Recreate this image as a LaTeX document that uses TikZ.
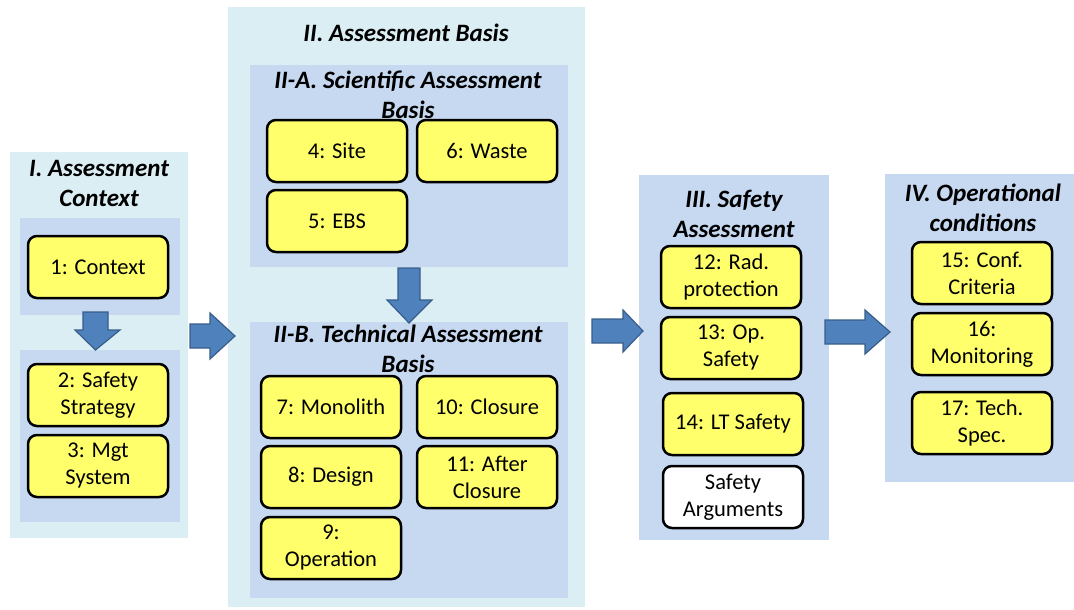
\documentclass[tikz,border=0pt]{standalone}
\usepackage{fontspec}
\setmainfont{Carlito}
\usetikzlibrary{positioning}

\definecolor{outerblue}{RGB}{219,238,244}
\definecolor{innerblue}{RGB}{198,217,241}
\definecolor{boxyellow}{RGB}{255,255,108}
\definecolor{arrowblue}{RGB}{79,129,189}
\definecolor{arrowedge}{RGB}{56,93,138}

\tikzset{
  item/.style={draw=black, line width=2.5pt, rounded corners=9pt, fill=boxyellow,
    minimum width=140pt, minimum height=62pt, inner sep=2pt, align=center,
    font=\fontsize{22.5}{27}\selectfont},
  title/.style={align=center, inner sep=0pt, font=\fontsize{25}{30}\selectfont\bfseries\itshape},
  blk/.style={fill=arrowblue, draw=arrowedge, line width=1.2pt, line join=miter},
}

\begin{document}
\begin{tikzpicture}[x=1pt, y=-1pt]
    \useasboundingbox (0,0) rectangle (1074,610);

    % panels
    \fill[outerblue] (10,152) rectangle (188,538);
    \fill[innerblue] (20,218) rectangle (180,315);
    \fill[innerblue] (20,350) rectangle (180,522);
    \fill[outerblue] (228,7) rectangle (585,607);
    \fill[innerblue] (250,65) rectangle (568,267);
    \fill[innerblue] (250,322) rectangle (568,598);
    \fill[innerblue] (639,175) rectangle (829,540);
    \fill[innerblue] (885,174) rectangle (1074,482);

    % titles
    \node[title] (tI) at (99,183) {I. Assessment\\Context};
    \node[title] (tII) at (406,33) {II. Assessment Basis};
    \node[title] (tIIA) at (408,95) {II-A. Scientific Assessment\\Basis};
    \node[title] (tIIB) at (408,349) {II-B. Technical Assessment\\Basis};
    \node[title] (tIII) at (734,214) {III. Safety\\Assessment};
    \node[title] (tIV) at (983,208) {IV. Operational\\conditions};

    % block arrows
    \draw[blk] (83,312) -- (108,312) -- (108,330) -- (120,330) -- (95.5,350)
        -- (75,330) -- (83,330) -- cycle;
    \draw[blk] (398,268) -- (420,268) -- (420,300) -- (432,300) -- (409,323)
        -- (387,300) -- (398,300) -- cycle;
    \draw[blk] (190,324) -- (210,324) -- (210,313) -- (235,336) -- (210,359)
        -- (210,348) -- (190,348) -- cycle;
    \draw[blk] (592,319) -- (623,319) -- (623,310) -- (643,331) -- (623,352)
        -- (623,343) -- (592,343) -- cycle;
    \draw[blk] (825,320) -- (865,320) -- (865,310) -- (890,332) -- (865,354)
        -- (865,344) -- (825,344) -- cycle;

    % I. context
    \node[item] (n1) at (98,267) {1: Context};
    \node[item] (n2) at (98,395) {2: Safety\\Strategy};
    \node[item] (n3) at (98,466) {3: Mgt\\System};

    % II-A
    \node[item] (n4) at (337,151) {4: Site};
    \node[item] (n6) at (487,151) {6: Waste};
    \node[item] (n5) at (337,221) {5: EBS};

    % II-B
    \node[item] (n7) at (331,407) {7: Monolith};
    \node[item] (n10) at (487,407) {10: Closure};
    \node[item] (n8) at (331,477) {8: Design};
    \node[item] (n11) at (487,477) {11: After\\Closure};
    \node[item] (n9) at (331,548) {9:\\Operation};

    % III
    \node[item] (n12) at (731,277) {12: Rad.\\protection};
    \node[item] (n13) at (731,348) {13: Op.\\Safety};
    \node[item] (n14) at (733,424) {14: LT Safety};
    \node[item, fill=white] (args) at (733,497) {Safety\\Arguments};

    % IV
    \node[item] (n15) at (982,273) {15: Conf.\\Criteria};
    \node[item] (n16) at (982,344) {16:\\Monitoring};
    \node[item] (n17) at (982,423) {17: Tech.\\Spec.};
\end{tikzpicture}
\end{document}
